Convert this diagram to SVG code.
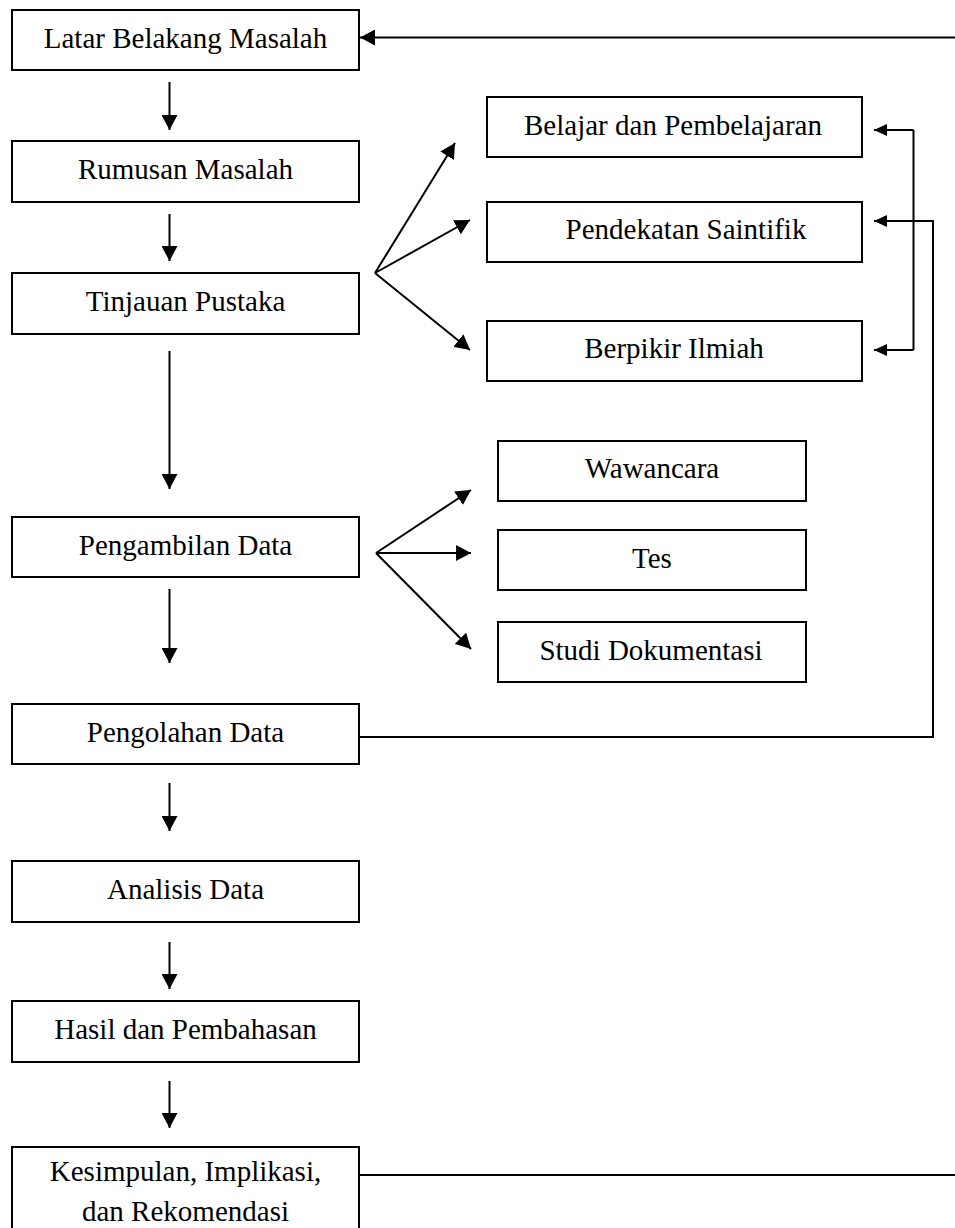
<svg xmlns="http://www.w3.org/2000/svg" width="955" height="1228" viewBox="0 0 955 1228">
<style>
.box{fill:#fff;stroke:#000;stroke-width:2}
.t{font-family:"Liberation Serif","Times New Roman",serif;font-size:29px;fill:#000;text-anchor:middle}
.c{fill:none;stroke:#000;stroke-width:2}
.a{marker-end:url(#ah)}
.s{marker-end:url(#as)}
</style>
<defs>
<marker id="ah" markerUnits="userSpaceOnUse" markerWidth="16" markerHeight="16" refX="15" refY="8" orient="auto"><path d="M0,0 L15,8 L0,16 z" fill="#000"/></marker>
<marker id="as" markerUnits="userSpaceOnUse" markerWidth="14" markerHeight="12" refX="13" refY="6" orient="auto"><path d="M0,0 L13,6 L0,12 z" fill="#000"/></marker>
</defs>
<rect width="955" height="1228" fill="#fff"/>
<g id="connectors">
<line class="c a" x1="169.5" y1="82" x2="169.5" y2="130"/>
<line class="c a" x1="169.5" y1="214" x2="169.5" y2="261"/>
<line class="c a" x1="169.5" y1="351" x2="169.5" y2="489"/>
<line class="c a" x1="169.5" y1="589" x2="169.5" y2="663"/>
<line class="c a" x1="169.5" y1="783" x2="169.5" y2="831"/>
<line class="c a" x1="169.5" y1="942" x2="169.5" y2="989"/>
<line class="c a" x1="169.5" y1="1081" x2="169.5" y2="1128"/>
<line class="c a" x1="955" y1="37.5" x2="360" y2="37.5"/>
<line class="c a" x1="375" y1="273" x2="455" y2="143"/>
<line class="c a" x1="375" y1="273" x2="470" y2="220"/>
<line class="c a" x1="375" y1="273" x2="470" y2="350"/>
<line class="c a" x1="376" y1="553" x2="471" y2="490"/>
<line class="c a" x1="376" y1="553" x2="471" y2="553"/>
<line class="c a" x1="376" y1="553" x2="471" y2="649"/>
<polyline class="c s" points="913.5,130 874,130"/>
<polyline class="c" points="913.5,130 913.5,350"/>
<polyline class="c s" points="913.5,350 874,350"/>
<polyline class="c s" points="359,737 933,737 933,221 874,221"/>
<line class="c" x1="359" y1="1175" x2="955" y2="1175"/>
</g>
<g id="n1"><rect class="box" x="12" y="10" width="347" height="60"/><text class="t" x="185.5" y="48">Latar Belakang Masalah</text></g>
<g id="n2"><rect class="box" x="12" y="141" width="347" height="61"/><text class="t" x="185.5" y="179">Rumusan Masalah</text></g>
<g id="n3"><rect class="box" x="12" y="273" width="347" height="61"/><text class="t" x="185.5" y="311">Tinjauan Pustaka</text></g>
<g id="n4"><rect class="box" x="12" y="517" width="347" height="60"/><text class="t" x="185.5" y="555">Pengambilan Data</text></g>
<g id="n5"><rect class="box" x="12" y="704" width="347" height="60"/><text class="t" x="185.5" y="742">Pengolahan Data</text></g>
<g id="n6"><rect class="box" x="12" y="861" width="347" height="61"/><text class="t" x="185.5" y="899">Analisis Data</text></g>
<g id="n7"><rect class="box" x="12" y="1001" width="347" height="61"/><text class="t" x="185.5" y="1039">Hasil dan Pembahasan</text></g>
<g id="n8"><rect class="box" x="12" y="1147" width="347" height="100"/><text class="t" x="185.5" y="1181">Kesimpulan, Implikasi,</text><text class="t" x="185.5" y="1221">dan Rekomendasi</text></g>
<g id="n9"><rect class="box" x="487" y="97" width="375" height="60"/><text class="t" x="673" y="135">Belajar dan Pembelajaran</text></g>
<g id="n10"><rect class="box" x="487" y="202" width="375" height="60"/><text class="t" x="686" y="239">Pendekatan Saintifik</text></g>
<g id="n11"><rect class="box" x="487" y="321" width="375" height="60"/><text class="t" x="674" y="358">Berpikir Ilmiah</text></g>
<g id="n12"><rect class="box" x="498" y="441" width="308" height="60"/><text class="t" x="652" y="478">Wawancara</text></g>
<g id="n13"><rect class="box" x="498" y="530" width="308" height="60"/><text class="t" x="652" y="568">Tes</text></g>
<g id="n14"><rect class="box" x="498" y="622" width="308" height="60"/><text class="t" x="651" y="660">Studi Dokumentasi</text></g>
</svg>
